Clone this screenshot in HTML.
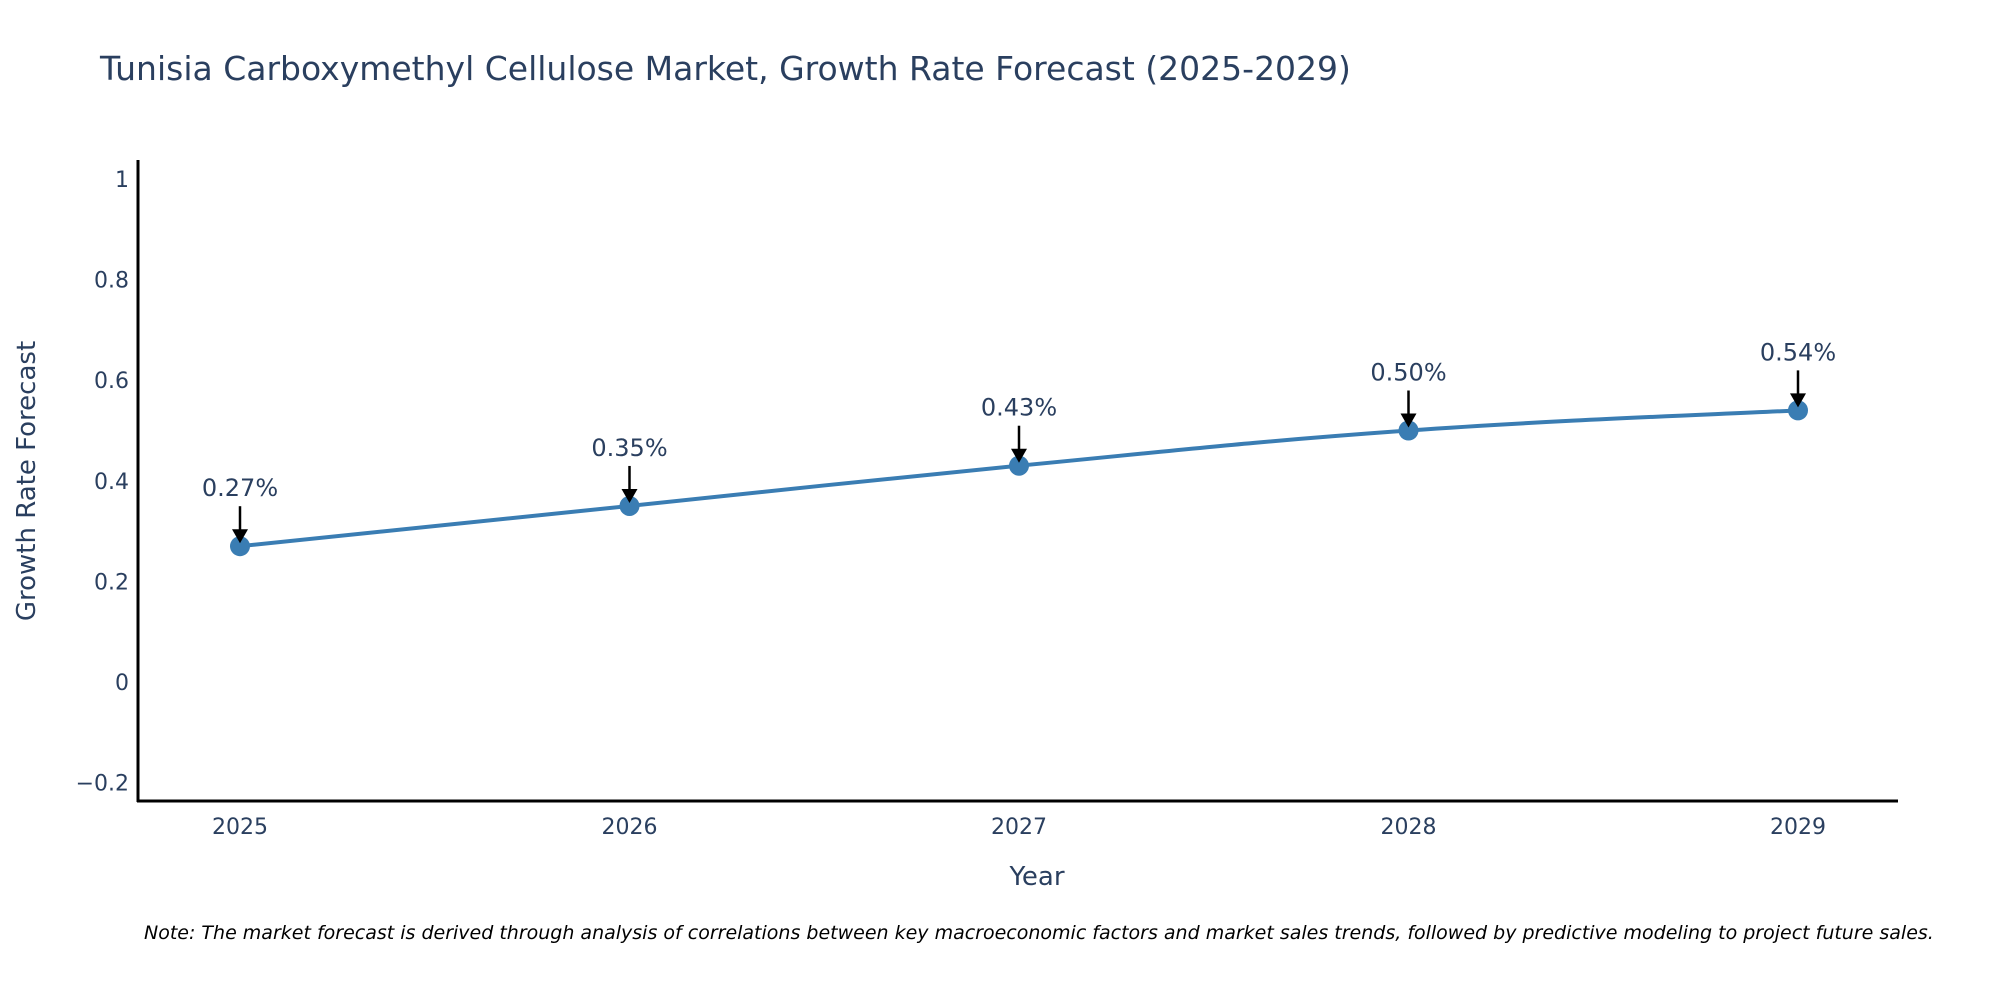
<!DOCTYPE html>
<html><head><meta charset="utf-8"><style>
body{margin:0;background:#fff;}
svg{display:block;font-family:"DejaVu Sans","Liberation Sans",sans-serif;}
</style></head><body>
<svg id="chart" width="2000" height="1000">
<text x="100" y="80" font-size="33" fill="#2a3f5f">Tunisia Carboxymethyl Cellulose Market, Growth Rate Forecast (2025-2029)</text>
<g id="yticks"></g>
<g id="xticks"></g>
<line x1="138" y1="160" x2="138" y2="802" stroke="#000" stroke-width="3"/>
<line x1="137" y1="801" x2="1898" y2="801" stroke="#000" stroke-width="3"/>
<g id="series"></g>
<text x="1037" y="885" font-size="26" fill="#2a3f5f" text-anchor="middle">Year</text>
<text transform="translate(35,481) rotate(-90)" font-size="26" fill="#2a3f5f" text-anchor="middle">Growth Rate Forecast</text>
<text x="144" y="939" font-size="19" font-style="italic" fill="#000">Note: The market forecast is derived through analysis of correlations between key macroeconomic factors and market sales trends, followed by predictive modeling to project future sales.</text>
</svg>
<script>
const years=["2025","2026","2027","2028","2029"];
const values=[0.27,0.35,0.43,0.50,0.54];
const labels=["0.27%","0.35%","0.43%","0.50%","0.54%"];
const yTicks=[-0.2,0,0.2,0.4,0.6,0.8,1];
const yTickLabels=["\u22120.2","0","0.2","0.4","0.6","0.8","1"];
const NS="http://www.w3.org/2000/svg";
function X(i){return 240+i*(1798-240)/(years.length-1);}
function Y(v){return 682-503*v;}
function mk(tag,attrs,parent){const e=document.createElementNS(NS,tag);for(const k in attrs)e.setAttribute(k,attrs[k]);parent.appendChild(e);return e;}
const yt=document.getElementById('yticks'),xt=document.getElementById('xticks'),s=document.getElementById('series');
yTicks.forEach((v,i)=>{const t=mk('text',{x:129,y:Y(v)+8,'font-size':22,fill:'#2a3f5f','text-anchor':'end'},yt);t.textContent=yTickLabels[i];

});
years.forEach((yr,i)=>{const t=mk('text',{x:X(i),y:834,'font-size':22,fill:'#2a3f5f','text-anchor':'middle'},xt);t.textContent=yr;

});
const pts=values.map((v,i)=>[X(i),Y(v)]);
let d='M'+pts[0][0]+','+pts[0][1];
const k=0.2;
for(let i=0;i<pts.length-1;i++){const p0=pts[Math.max(i-1,0)],p1=pts[i],p2=pts[i+1],p3=pts[Math.min(i+2,pts.length-1)];
d+=' C'+(p1[0]+(p2[0]-p0[0])*k)+','+(p1[1]+(p2[1]-p0[1])*k)+' '+(p2[0]-(p3[0]-p1[0])*k)+','+(p2[1]-(p3[1]-p1[1])*k)+' '+p2[0]+','+p2[1];}
const pl=mk('path',{d:d,fill:'none',stroke:'#3a7db3','stroke-width':4},s);


values.forEach((v,i)=>{const x=X(i),y=Y(v);
const c=mk('circle',{cx:x,cy:y,r:10,fill:'#3a7db3'},s);


const l=mk('line',{x1:x,y1:y-40,x2:x,y2:y-14,stroke:'#000','stroke-width':2.5},s);


const p=mk('polygon',{points:(x-8)+','+(y-17)+' '+(x+8)+','+(y-17)+' '+x+','+(y-3),fill:'#000'},s);


const t=mk('text',{x:x,y:y-50,'font-size':24,fill:'#2a3f5f','text-anchor':'middle'},s);t.textContent=labels[i];

});
</script>
</body></html>
